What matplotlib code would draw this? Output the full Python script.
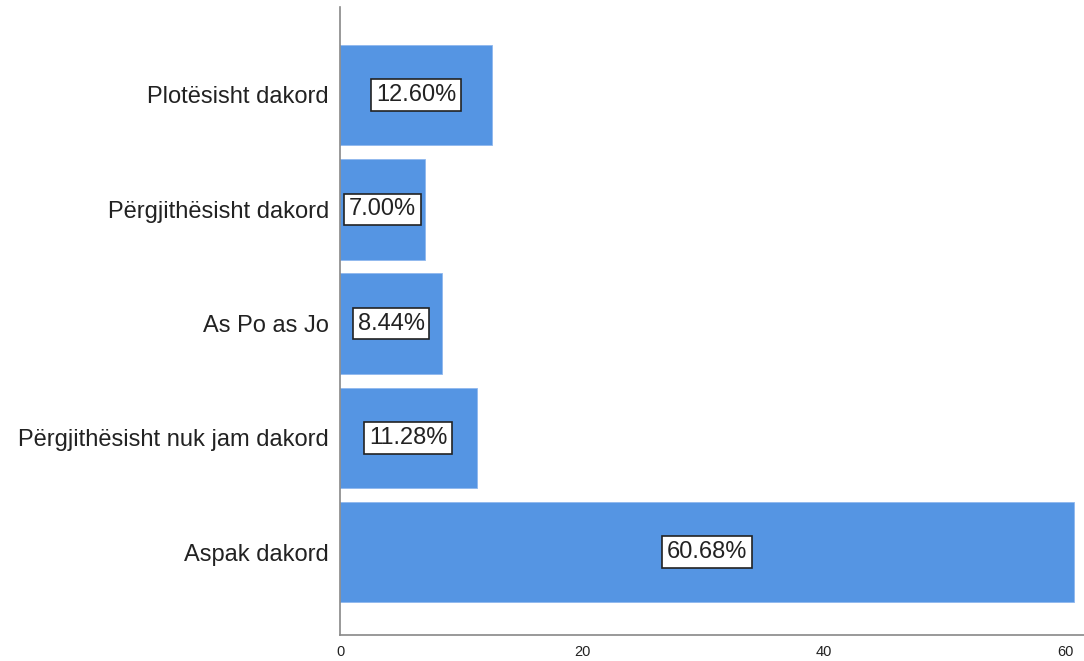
import matplotlib.pyplot as plt

categories = ['Aspak dakord', 'Përgjithësisht nuk jam dakord', 'As Po as Jo',
              'Përgjithësisht dakord', 'Plotësisht dakord']
percent = [60.68, 11.28, 8.44, 7.00, 12.60]
xticks = [0, 20, 40, 60]

plt.rcParams['font.family'] = ['Liberation Sans', 'DejaVu Sans']

fig = plt.figure(figsize=(10.84, 6.61), dpi=100)
ax = fig.add_axes([0.3137, 0.0393, 0.6863, 0.9501])

pos = list(range(len(categories)))
ax.barh(pos, percent, height=0.88, color='#5595e3', edgecolor='#8fb8ee', linewidth=0.6)

# value boxes in the middle of each bar
for y, v in zip(pos, percent):
    ax.text(v / 2, y, f'{v:.2f}%', ha='center', va='center', fontsize=17, color='#222222',
            bbox=dict(boxstyle='square,pad=0.2', facecolor='white', edgecolor='#222222', linewidth=1.2))

ax.set_yticks(pos)
ax.set_yticklabels(categories, fontsize=17, color='#222222')
ax.set_xticks(xticks)
ax.set_xticklabels([str(t) for t in xticks], fontsize=10.5, color='#222222')
ax.tick_params(axis='both', length=0)
ax.tick_params(axis='y', pad=8)
ax.tick_params(axis='x', pad=7)
ax.set_xlim(0, 61.5)
ax.set_ylim(-0.726, 4.77)

for s in ['top', 'right']:
    ax.spines[s].set_visible(False)
for s in ['left', 'bottom']:
    ax.spines[s].set_color('#888888')
    ax.spines[s].set_linewidth(1.2)

fig.savefig('out.png', dpi=100)
